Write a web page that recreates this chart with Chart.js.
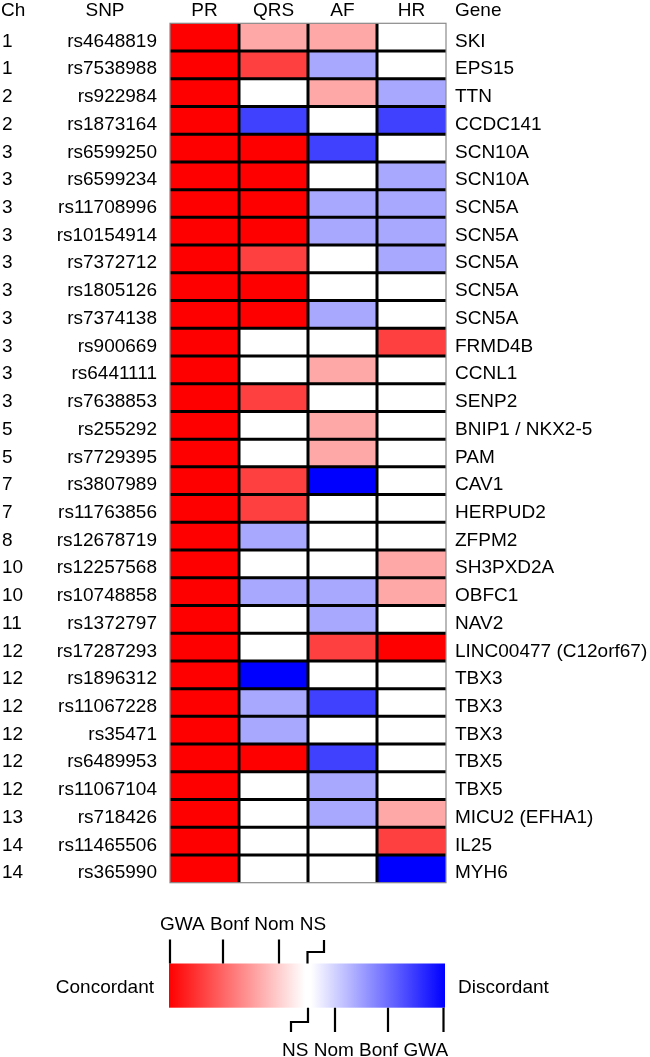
<!DOCTYPE html>
<html>
<head>
<meta charset="utf-8">
<title>SNP concordance heatmap</title>
<script src="https://cdn.jsdelivr.net/npm/chart.js@4.4.0/dist/chart.umd.min.js"></script>
<style>
  html, body { margin: 0; padding: 0; background: #fff; }
  #wrap { position: relative; width: 650px; height: 1057px; }
</style>
</head>
<body>
<div id="wrap"><canvas id="heatmap"></canvas></div>
<script>
// Rows, top to bottom
const chromosomes = [1, 1, 2, 2, 3, 3, 3, 3, 3, 3, 3, 3, 3, 3, 5, 5, 7, 7, 8, 10, 10, 11, 12, 12, 12, 12, 12, 12, 13, 14, 14];
const snps = ['rs4648819', 'rs7538988', 'rs922984', 'rs1873164', 'rs6599250', 'rs6599234', 'rs11708996', 'rs10154914',
  'rs7372712', 'rs1805126', 'rs7374138', 'rs900669', 'rs6441111', 'rs7638853', 'rs255292', 'rs7729395', 'rs3807989',
  'rs11763856', 'rs12678719', 'rs12257568', 'rs10748858', 'rs1372797', 'rs17287293', 'rs1896312', 'rs11067228',
  'rs35471', 'rs6489953', 'rs11067104', 'rs718426', 'rs11465506', 'rs365990'];
const genes = ['SKI', 'EPS15', 'TTN', 'CCDC141', 'SCN10A', 'SCN10A', 'SCN5A', 'SCN5A', 'SCN5A', 'SCN5A', 'SCN5A',
  'FRMD4B', 'CCNL1', 'SENP2', 'BNIP1 / NKX2-5', 'PAM', 'CAV1', 'HERPUD2', 'ZFPM2', 'SH3PXD2A', 'OBFC1', 'NAV2',
  'LINC00477 (C12orf67)', 'TBX3', 'TBX3', 'TBX3', 'TBX5', 'TBX5', 'MICU2 (EFHA1)', 'IL25', 'MYH6'];

// Columns
const traits = ['PR', 'QRS', 'AF', 'HR'];

// Significance level: 3 = GWA, 2 = Bonf, 1 = Nom, 0 = NS; sign + concordant, - discordant
const prLevels  = [3, 3, 3, 3, 3, 3, 3, 3, 3, 3, 3, 3, 3, 3, 3, 3, 3, 3, 3, 3, 3, 3, 3, 3, 3, 3, 3, 3, 3, 3, 3];
const qrsLevels = [1, 2, 0, -2, 3, 3, 3, 3, 2, 3, 3, 0, 0, 2, 0, 0, 2, 2, -1, 0, -1, 0, 0, -3, -1, -1, 3, 0, 0, 0, 0];
const afLevels  = [1, -1, 1, 0, -2, 0, -1, -1, 0, 0, -1, 0, 1, 0, 1, 1, -3, 0, 0, 0, -1, -1, 2, 0, -2, 0, -2, -1, -1, 0, 0];
const hrLevels  = [0, 0, -1, -2, 0, -1, -1, -1, -1, 0, 0, 2, 0, 0, 0, 0, 0, 0, 0, 1, 1, 0, 3, 0, 0, 0, 0, 0, 1, 2, -3];

// Legend tick labels
const concordantTicks = ['GWA', 'Bonf', 'Nom', 'NS'];
const discordantTicks = ['NS', 'Nom', 'Bonf', 'GWA'];

const levelColors = {
  '3': '#ff0000', '2': '#ff4040', '1': '#ffa8a8', '0': '#ffffff',
  '-1': '#a8a8ff', '-2': '#4040ff', '-3': '#0000ff'
};
const FONT = '19px "Liberation Sans", Arial, Helvetica, sans-serif';

const traitLevels = [prLevels, qrsLevels, afLevels, hrLevels];
const datasets = traits.map(function(name, c) {
  return {
    label: name,
    data: traitLevels[c].map(function() { return [c, c + 1]; }),
    backgroundColor: traitLevels[c].map(function(v) { return levelColors[v]; }),
    borderWidth: 0,
    barPercentage: 1,
    categoryPercentage: 1,
    grouped: false
  };
});

// black cell borders + thin grey frame
const cellGrid = {
  id: 'cellGrid',
  afterDatasetsDraw(chart) {
    const ctx = chart.ctx;
    const a = chart.chartArea;
    const x = chart.scales.x, y = chart.scales.y;
    ctx.save();
    ctx.strokeStyle = '#000';
    ctx.lineWidth = 3;
    ctx.beginPath();
    for (let i = 1; i < snps.length; i++) {
      const py = y.getPixelForValue(i - 0.5);
      ctx.moveTo(a.left, py);
      ctx.lineTo(a.right, py);
    }
    for (let c = 1; c < traits.length; c++) {
      const px = x.getPixelForValue(c);
      ctx.moveTo(px, a.top);
      ctx.lineTo(px, a.bottom);
    }
    ctx.stroke();
    ctx.strokeStyle = '#8a8a8a';
    ctx.lineWidth = 1.2;
    ctx.strokeRect(a.left, a.top, a.right - a.left, a.bottom - a.top);
    ctx.restore();
  }
};

// header row, Ch / SNP / Gene columns, colour key
const labelsAndKey = {
  id: 'labelsAndKey',
  afterDraw(chart) {
    const ctx = chart.ctx;
    const a = chart.chartArea;
    const x = chart.scales.x, y = chart.scales.y;
    ctx.save();
    ctx.font = FONT;
    ctx.fillStyle = '#000';
    ctx.textBaseline = 'alphabetic';

    // headers
    const hy = 15.5;
    ctx.textAlign = 'left';
    ctx.fillText('Ch', 1, hy);
    ctx.fillText('Gene', a.right + 9, hy);
    ctx.textAlign = 'center';
    ctx.fillText('SNP', 105, hy);
    traits.forEach(function(t, c) {
      ctx.fillText(t, x.getPixelForValue(c + 0.5), hy);
    });

    // row labels
    snps.forEach(function(s, i) {
      const py = y.getPixelForValue(i) + 9.5;
      ctx.textAlign = 'left';
      ctx.fillText(String(chromosomes[i]), 2, py);
      ctx.fillText(genes[i], a.right + 9, py);
      ctx.textAlign = 'right';
      ctx.fillText(s, a.left - 13, py);
    });

    // colour key
    const kTop = 963.5, kBot = 1007.7, kL = 169, kR = 445;
    const redEnd = 305, blueStart = 311;
    const red = ctx.createLinearGradient(kL, 0, redEnd, 0);
    red.addColorStop(0, '#ff0000');
    red.addColorStop(1, '#ffffff');
    ctx.fillStyle = red;
    ctx.fillRect(kL, kTop, redEnd - kL, kBot - kTop);
    const blue = ctx.createLinearGradient(blueStart, 0, kR, 0);
    blue.addColorStop(0, '#ffffff');
    blue.addColorStop(1, '#0000ff');
    ctx.fillStyle = blue;
    ctx.fillRect(blueStart, kTop, kR - blueStart, kBot - kTop);

    ctx.strokeStyle = '#000';
    ctx.lineWidth = 2.2;
    ctx.beginPath();
    [170, 223, 279].forEach(function(px) {
      ctx.moveTo(px, 939.5); ctx.lineTo(px, kTop);
    });
    ctx.moveTo(324, 940); ctx.lineTo(324, 952); ctx.lineTo(307.5, 952); ctx.lineTo(307.5, kTop);
    [443.5, 388, 335].forEach(function(px) {
      ctx.moveTo(px, kBot); ctx.lineTo(px, 1032);
    });
    ctx.moveTo(308, kBot); ctx.lineTo(308, 1022); ctx.lineTo(291, 1022); ctx.lineTo(291, 1032);
    ctx.stroke();

    ctx.fillStyle = '#000';
    ctx.textAlign = 'left';
    ctx.fillText(concordantTicks.join(' '), 160, 930);
    ctx.fillText(discordantTicks.join(' '), 282, 1056);
    ctx.fillText('Discordant', 458, 993);
    ctx.textAlign = 'right';
    ctx.fillText('Concordant', 154, 993);
    ctx.restore();
  }
};

new Chart(document.getElementById('heatmap'), {
  type: 'bar',
  data: { labels: snps, datasets: datasets },
  options: {
    indexAxis: 'y',
    responsive: true,
    maintainAspectRatio: false,
    animation: false,
    layout: { padding: { left: 170, right: 204, top: 23.3, bottom: 174.3 } },
    scales: {
      x: { type: 'linear', min: 0, max: 4, display: false },
      y: { type: 'category', offset: true, display: false }
    },
    plugins: {
      legend: { display: false },
      tooltip: { enabled: false }
    }
  },
  plugins: [cellGrid, labelsAndKey]
});
</script>
</body>
</html>
